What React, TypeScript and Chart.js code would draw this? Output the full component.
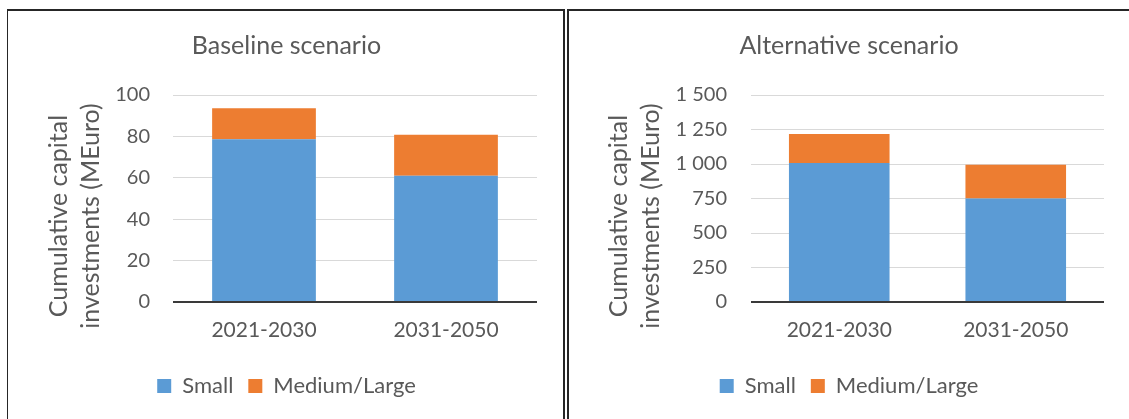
import { useEffect, useRef } from "react";
import { Chart, registerables } from "chart.js";

Chart.register(...registerables);

const categories = ["2021-2030", "2031-2050"];
const seriesNames = ["Small", "Medium/Large"];
const baselineSmall = [78.6, 61.0];
const baselineMediumLarge = [15.0, 19.8];
const alternativeSmall = [1008, 750];
const alternativeMediumLarge = [209, 244];
const baselineTitle = "Baseline scenario";
const alternativeTitle = "Alternative scenario";
const yAxisTitle = ["Cumulative capital", "investments (MEuro)"];

const FONT = "Lato, 'Noto Sans', sans-serif";
const TEXT = "#595959";
const BLUE = "#5B9BD5";
const ORANGE = "#ED7D31";

function fmt(v: number) {
  return String(v).replace(/\B(?=(\d{3})+(?!\d))/g, " ");
}

// Draws the two-line rotated y-axis title (Excel-style placement).
const yTitlePlugin = {
  id: "yTitleExcel",
  afterDraw(chart: any, _args: any, opts: any) {
    const ctx = chart.ctx;
    const area = chart.chartArea;
    const lines: string[] = opts.text || [];
    const cy = (area.top + area.bottom) / 2 + (opts.shift || 0);
    ctx.save();
    ctx.fillStyle = TEXT;
    ctx.font = `normal ${opts.size}px ${FONT}`;
    ctx.textAlign = "center";
    ctx.textBaseline = "middle";
    lines.forEach((line, i) => {
      ctx.save();
      ctx.translate(opts.x + i * opts.lineGap, cy);
      ctx.rotate(-Math.PI / 2);
      ctx.fillText(line, 0, 0);
      ctx.restore();
    });
    ctx.restore();
  },
};

function makeConfig(p: {
  title: string;
  small: number[];
  medium: number[];
  max: number;
  step: number;
  yWidth: number;
  pad: number;
  titleX: number;
  tickPad: number;
}): any {
  return {
    type: "bar",
    data: {
      labels: categories,
      datasets: [
        { label: seriesNames[0], data: p.small, backgroundColor: BLUE, borderWidth: 0 },
        { label: seriesNames[1], data: p.medium, backgroundColor: ORANGE, borderWidth: 0 },
      ],
    },
    plugins: [yTitlePlugin],
    options: {
      animation: false,
      responsive: false,
      maintainAspectRatio: false,
      layout: { padding: { left: p.pad, right: p.pad, top: 0, bottom: 12 } },
      datasets: { bar: { barPercentage: 0.57, categoryPercentage: 1 } },
      plugins: {
        tooltip: { enabled: false },
        yTitleExcel: { text: yAxisTitle, size: 25, x: p.titleX, lineGap: 32, shift: 17.5 },
        title: {
          display: true,
          text: p.title,
          color: TEXT,
          font: { family: FONT, size: 25, weight: "normal", lineHeight: 1.2 },
          padding: { top: 20, bottom: 34 },
        },
        legend: {
          position: "bottom",
          labels: {
            color: TEXT,
            font: { family: FONT, size: 22 },
            boxWidth: 14,
            boxHeight: 14,
            padding: 15,
          },
        },
      },
      scales: {
        x: {
          stacked: true,
          grid: { display: false, drawTicks: false },
          border: { display: false },
          ticks: { color: TEXT, font: { family: FONT, size: 21, lineHeight: 1.2 }, padding: 15.4 },
          afterFit: (s: any) => {
            s.height = 58;
          },
        },
        y: {
          stacked: true,
          min: 0,
          max: p.max,
          border: { display: false },
          grid: {
            drawTicks: false,
            color: (c: any) => (c.tick && c.tick.value === 0 ? "#3a3a3a" : "#d9d9d9"),
            lineWidth: (c: any) => (c.tick && c.tick.value === 0 ? 2 : 1),
          },
          ticks: {
            stepSize: p.step,
            color: TEXT,
            font: { family: FONT, size: 20 },
            padding: p.tickPad,
            callback: (v: any) => fmt(Number(v)),
          },
          afterFit: (s: any) => {
            s.width = p.yWidth;
          },
        },
      },
    },
  };
}

function ChartCanvas(props: { config: any; left: number; top: number; width: number; height: number }) {
  const ref = useRef<HTMLCanvasElement | null>(null);
  useEffect(() => {
    if (!ref.current) return;
    const chart = new Chart(ref.current, props.config);
    return () => chart.destroy();
  }, []);
  return (
    <canvas
      ref={ref}
      width={props.width}
      height={props.height}
      style={{ position: "absolute", left: props.left, top: props.top, width: props.width, height: props.height }}
    />
  );
}

export default function App() {
  const border = "#262626";
  return (
    <div style={{ position: "fixed", left: 0, top: 0, width: 1129, height: 419, overflow: "hidden", background: "#fff" }}>
      <div
        style={{
          position: "absolute",
          left: 7,
          top: 9,
          width: 558,
          height: 430,
          boxSizing: "border-box",
          borderLeft: `1px solid ${border}`,
          borderTop: `2px solid ${border}`,
          borderRight: `2px solid ${border}`,
        }}
      />
      <div
        style={{
          position: "absolute",
          left: 567,
          top: 9,
          width: 580,
          height: 430,
          boxSizing: "border-box",
          borderLeft: `2px solid ${border}`,
          borderTop: `2px solid ${border}`,
        }}
      />
      <ChartCanvas
        left={10}
        top={11}
        width={553}
        height={408}
        config={makeConfig({
          title: baselineTitle,
          small: baselineSmall,
          medium: baselineMediumLarge,
          max: 100,
          step: 20,
          yWidth: 137,
          pad: 26,
          titleX: 49,
          tickPad: 23,
        })}
      />
      <ChartCanvas
        left={569}
        top={11}
        width={560}
        height={408}
        config={makeConfig({
          title: alternativeTitle,
          small: alternativeSmall,
          medium: alternativeMediumLarge,
          max: 1500,
          step: 250,
          yWidth: 157,
          pad: 25,
          titleX: 50,
          tickPad: 24,
        })}
      />
    </div>
  );
}
